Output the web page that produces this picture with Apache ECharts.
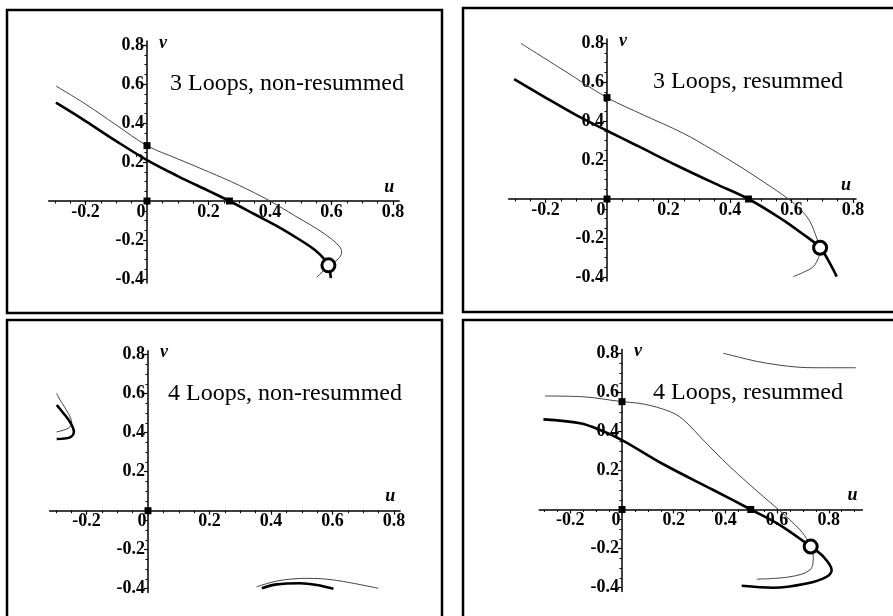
<!DOCTYPE html>
<html>
<head>
<meta charset="utf-8">
<script src="https://cdn.jsdelivr.net/npm/echarts@6/dist/echarts.min.js"></script>
<style>html,body{margin:0;padding:0;background:#fff}#c{width:893px;height:616px}</style>
</head>
<body>
<div id="c"></div>
<script>
// ---- data ----
const panelTitles = ['3 Loops, non-resummed', '3 Loops, resummed', '4 Loops, non-resummed', '4 Loops, resummed'];
const xLabelValues = [-0.2, 0, 0.2, 0.4, 0.6, 0.8];
const yLabelValues = [-0.4, -0.2, 0.2, 0.4, 0.6, 0.8];

// Panel 1: 3 loops, non-resummed
const p1Thick = [[-0.296,0.504],[-0.2,0.41],[-0.1,0.307],[0,0.21],[0.1,0.128],[0.2,0.052],[0.268,0],[0.35,-0.068],[0.43,-0.135],[0.498,-0.2],[0.545,-0.25],[0.575,-0.295],[0.59,-0.33],[0.598,-0.395]];
const p1Thin = [[-0.296,0.59],[-0.2,0.497],[-0.1,0.39],[0,0.284],[0.1,0.216],[0.2,0.15],[0.3,0.08],[0.4,0],[0.48,-0.075],[0.55,-0.14],[0.6,-0.195],[0.627,-0.235],[0.633,-0.262],[0.622,-0.297],[0.59,-0.335],[0.552,-0.391]];
const p1Squares = [[0,0],[0,0.284],[0.268,0]];
const p1Circle = [[0.59,-0.33]];

// Panel 2: 3 loops, resummed
const p2Thick = [[-0.302,0.615],[-0.2,0.52],[-0.1,0.43],[0,0.35],[0.1,0.272],[0.227,0.172],[0.35,0.08],[0.46,0],[0.573,-0.108],[0.63,-0.172],[0.693,-0.25],[0.725,-0.33],[0.747,-0.398]];
const p2Thin = [[-0.28,0.798],[-0.14,0.659],[0,0.52],[0.12,0.43],[0.248,0.337],[0.34,0.255],[0.433,0.166],[0.51,0.087],[0.59,0],[0.63,-0.055],[0.66,-0.115],[0.682,-0.2],[0.695,-0.255],[0.688,-0.3],[0.671,-0.347],[0.64,-0.375],[0.606,-0.398]];
const p2Squares = [[0,0],[0,0.52],[0.46,0]];
const p2Circle = [[0.693,-0.25]];

// Panel 3: 4 loops, non-resummed
const p3ThinA = [[-0.297,0.602],[-0.286,0.568],[-0.259,0.499],[-0.248,0.45],[-0.259,0.423],[-0.297,0.404]];
const p3ThickA = [[-0.297,0.542],[-0.275,0.5],[-0.254,0.456],[-0.241,0.405],[-0.254,0.376],[-0.297,0.368]];
const p3ThinB = [[0.353,-0.39],[0.4,-0.368],[0.44,-0.355],[0.516,-0.347],[0.603,-0.355],[0.749,-0.398]];
const p3ThickB = [[0.37,-0.398],[0.418,-0.378],[0.494,-0.372],[0.549,-0.381],[0.603,-0.4]];
const p3Squares = [[0,0]];

// Panel 4: 4 loops, resummed
const p4ThinTop = [[0.392,0.801],[0.45,0.782],[0.52,0.76],[0.6,0.742],[0.68,0.73],[0.75,0.727],[0.905,0.727]];
const p4Thin = [[-0.298,0.582],[-0.15,0.578],[0,0.553],[0.057,0.546],[0.108,0.534],[0.16,0.514],[0.212,0.485],[0.256,0.438],[0.302,0.373],[0.418,0.219],[0.547,0.066],[0.605,0],[0.689,-0.105],[0.72,-0.165],[0.74,-0.242],[0.727,-0.31],[0.65,-0.345],[0.521,-0.357]];
const p4Thick = [[-0.304,0.462],[-0.162,0.442],[-0.08,0.405],[0,0.356],[0.16,0.232],[0.353,0.1],[0.498,0],[0.611,-0.08],[0.73,-0.19],[0.779,-0.242],[0.811,-0.31],[0.791,-0.345],[0.714,-0.379],[0.585,-0.401],[0.463,-0.391]];
const p4Squares = [[0,0],[0,0.553],[0.498,0]];
const p4Circle = [[0.73,-0.19]];

// ---- layout ----
const layouts = [
  {ox:147, oy:201, sx:307.5, sy:195, xmin:-0.32, xmax:0.82, ymin:-0.42, ymax:0.82, tx:170, ty:85},
  {ox:607, oy:199, sx:307.5, sy:195, xmin:-0.32, xmax:0.81, ymin:-0.42, ymax:0.82, tx:653, ty:83},
  {ox:148, oy:510.7, sx:307.5, sy:195, xmin:-0.32, xmax:0.82, ymin:-0.42, ymax:0.82, tx:168, ty:395},
  {ox:622, oy:509.5, sx:258.5, sy:195, xmin:-0.32, xmax:0.93, ymin:-0.42, ymax:0.82, tx:653, ty:394}
];
const boxes = [
  {x:7, y:10, w:435, h:303},
  {x:463, y:8, w:440, h:304},
  {x:7, y:320, w:435, h:320},
  {x:463, y:320, w:440, h:320}
];

const serif = '"Liberation Serif", "DejaVu Serif", serif';
const grids = [], xAxes = [], yAxes = [], titles = [];
layouts.forEach((L, i) => {
  grids.push({
    left: L.ox + L.xmin * L.sx,
    width: (L.xmax - L.xmin) * L.sx,
    top: L.oy - L.ymax * L.sy,
    height: (L.ymax - L.ymin) * L.sy,
    containLabel: false
  });
  xAxes.push({
    type: 'value', gridIndex: i, min: L.xmin, max: L.xmax, splitNumber: 6,
    position: 'bottom', offset: L.ymin * L.sy,
    axisLine: {onZero: false, lineStyle: {color: '#000', width: 1.5}},
    axisTick: {show: true, length: 4, customValues: xLabelValues, lineStyle: {color: '#000', width: 1.2}},
    minorTick: {show: true, splitNumber: 4, length: 2.5, lineStyle: {color: '#000', width: 1}},
    splitLine: {show: false},
    axisLabel: {
      customValues: xLabelValues, margin: 2, color: '#000',
      fontFamily: serif, fontWeight: 'bold', fontSize: 18,
      formatter: v => (v === 0 ? '{z|0}' : String(v)),
      rich: {z: {padding: [0, 12, 0, 0], fontFamily: serif, fontWeight: 'bold', fontSize: 18, color: '#000'}}
    },
    name: 'u', nameLocation: 'end', nameGap: -10,
    nameTextStyle: {fontFamily: serif, fontStyle: 'italic', fontWeight: 'bold', fontSize: 18, color: '#000',
      align: 'center', verticalAlign: 'bottom', padding: [0, 0, 5, 0]}
  });
  yAxes.push({
    type: 'value', gridIndex: i, min: L.ymin, max: L.ymax, splitNumber: 6,
    position: 'left', offset: L.xmin * L.sx,
    axisLine: {onZero: false, lineStyle: {color: '#000', width: 1.5}},
    axisTick: {show: true, length: 4, customValues: yLabelValues, lineStyle: {color: '#000', width: 1.2}},
    minorTick: {show: true, splitNumber: 4, length: 2.5, lineStyle: {color: '#000', width: 1}},
    splitLine: {show: false},
    axisLabel: {customValues: yLabelValues, margin: 3, color: '#000', fontFamily: serif, fontWeight: 'bold', fontSize: 18},
    name: 'v', nameLocation: 'end', nameGap: -2,
    nameTextStyle: {fontFamily: serif, fontStyle: 'italic', fontWeight: 'bold', fontSize: 18, color: '#000',
      align: 'left', verticalAlign: 'middle', padding: [0, 0, 0, 12]}
  });
  titles.push({
    text: panelTitles[i], left: L.tx, top: L.ty - 13, padding: 0,
    textStyle: {fontFamily: serif, fontWeight: 'normal', fontSize: 24, color: '#000'}
  });
});

function thick(data, i) {
  return {type: 'line', xAxisIndex: i, yAxisIndex: i, data: data, showSymbol: false, smooth: 0.35,
    lineStyle: {color: '#000', width: 2.6}, z: 3, silent: true};
}
function thin(data, i) {
  return {type: 'line', xAxisIndex: i, yAxisIndex: i, data: data, showSymbol: false, smooth: 0.35,
    lineStyle: {color: '#444', width: 1}, z: 3, silent: true};
}
function squares(data, i) {
  return {type: 'scatter', xAxisIndex: i, yAxisIndex: i, data: data, symbol: 'rect', symbolSize: 7,
    itemStyle: {color: '#000', opacity: 1}, z: 5, silent: true};
}
function circle(data, i) {
  return {type: 'scatter', xAxisIndex: i, yAxisIndex: i, data: data, symbol: 'circle', symbolSize: 13,
    itemStyle: {color: '#fff', borderColor: '#000', borderWidth: 3, opacity: 1}, z: 6, silent: true};
}

const series = [
  thin(p1Thin, 0), thick(p1Thick, 0), squares(p1Squares, 0), circle(p1Circle, 0),
  thin(p2Thin, 1), thick(p2Thick, 1), squares(p2Squares, 1), circle(p2Circle, 1),
  thin(p3ThinA, 2), thick(p3ThickA, 2), thin(p3ThinB, 2), thick(p3ThickB, 2), squares(p3Squares, 2),
  thin(p4ThinTop, 3), thin(p4Thin, 3), thick(p4Thick, 3), squares(p4Squares, 3), circle(p4Circle, 3)
];

const chart = echarts.init(document.getElementById('c'));
chart.setOption({
  animation: false,
  backgroundColor: '#fff',
  title: titles,
  grid: grids,
  xAxis: xAxes,
  yAxis: yAxes,
  series: series,
  graphic: boxes.map(b => ({
    type: 'rect', shape: {x: b.x, y: b.y, width: b.w, height: b.h},
    style: {fill: 'none', stroke: '#000', lineWidth: 2.5}, silent: true, z: 10
  }))
});
</script>
</body>
</html>
